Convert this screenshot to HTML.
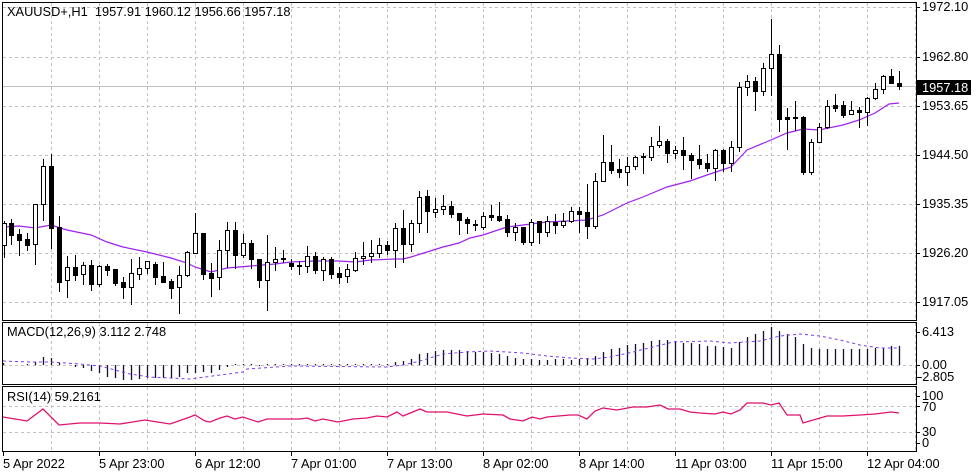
<!DOCTYPE html>
<html><head><meta charset="utf-8"><style>
html,body{margin:0;padding:0;background:#fff;}
svg{display:block;font-family:"Liberation Sans",sans-serif;font-size:12.8px;}
</style></head><body>
<svg id="c" width="980" height="475" xmlns="http://www.w3.org/2000/svg">
<rect width="980" height="475" fill="#fff"/>
<g id="grid" stroke="#c0c0c0" stroke-dasharray="3,3" stroke-width="1"></g>
<g id="plot"></g>
<g stroke="#000" fill="none" stroke-width="1">
<rect x="2.5" y="2.5" width="914" height="318"/>
<rect x="2.5" y="322.5" width="914" height="62"/>
<rect x="2.5" y="386.5" width="914" height="65"/>
</g>
<g id="ticks" stroke="#000" stroke-width="1"></g>
<g fill="#000">
<text x="7" y="16">XAUUSD+,H1&#160;&#160;1957.91 1960.12 1956.66 1957.18</text>
<text x="7" y="336">MACD(12,26,9) 3.112 2.748</text>
<text x="7" y="401">RSI(14) 59.2161</text>
<text x="922" y="11">1972.10</text>
<text x="922" y="61">1962.80</text>
<text x="922" y="110">1953.65</text>
<text x="922" y="159">1944.50</text>
<text x="922" y="208">1935.35</text>
<text x="922" y="257">1926.20</text>
<text x="922" y="306">1917.05</text>
<text x="922" y="336">6.413</text>
<text x="922" y="369">0.00</text>
<text x="918" y="381">-2.805</text>
<text x="922" y="400">100</text>
<text x="922" y="411">70</text>
<text x="922" y="436">30</text>
<text x="922" y="447">0</text>
</g>
<rect x="917" y="80" width="54" height="15" fill="#000"/>
<text x="922" y="92" fill="#fff">1957.18</text>
<g fill="#000">
<text x="3" y="468">5 Apr 2022</text>
<text x="99" y="468">5 Apr 23:00</text>
<text x="195" y="468">6 Apr 12:00</text>
<text x="291" y="468">7 Apr 01:00</text>
<text x="387" y="468">7 Apr 13:00</text>
<text x="483" y="468">8 Apr 02:00</text>
<text x="579" y="468">8 Apr 14:00</text>
<text x="675" y="468">11 Apr 03:00</text>
<text x="771" y="468">11 Apr 15:00</text>
<text x="867" y="468">12 Apr 04:00</text>
</g>
</svg>
<script>
var NS="http://www.w3.org/2000/svg";
function el(p,t,a){var e=document.createElementNS(NS,t);for(var k in a)e.setAttribute(k,a[k]);p.appendChild(e);return e;}
var grid=document.getElementById('grid'),plot=document.getElementById('plot'),ticks=document.getElementById('ticks');
for(var x=51;x<916;x+=48){[[3,320],[323,384],[387,451]].forEach(function(r){el(grid,'line',{x1:x+.5,x2:x+.5,y1:r[0],y2:r[1]});});}
[7,57,106,155,204,253,302].forEach(function(y){el(grid,'line',{x1:3,x2:916,y1:y+.5,y2:y+.5});el(ticks,'line',{x1:916,x2:920,y1:y+.5,y2:y+.5});});
[365].forEach(function(y){el(grid,'line',{x1:3,x2:916,y1:y+.5,y2:y+.5});});
[406,432].forEach(function(y){el(grid,'line',{x1:3,x2:916,y1:y+.5,y2:y+.5});});
[332,365,377].forEach(function(y){el(ticks,'line',{x1:916,x2:920,y1:y+.5,y2:y+.5});});
[396,406,432,443].forEach(function(y){el(ticks,'line',{x1:916,x2:920,y1:y+.5,y2:y+.5});});
for(var x=3;x<916;x+=96)el(ticks,'line',{x1:x+.5,x2:x+.5,y1:451,y2:456});
el(plot,'line',{x1:3,x2:916,y1:86.5,y2:86.5,stroke:'#c0c0c0'});
var ma=[[3,227],[19,226],[35,228],[51,225],[67,230],[91,235],[107,242],[123,247],[147,252],[171,258],[187,263],[195,267],[211,272],[227,268],[251,266],[275,264],[291,262],[315,261],[339,261],[355,262],[371,260],[395,259],[403,259],[411,257],[427,252],[443,247],[459,243],[470,238],[483,235],[507,227],[523,225],[547,222],[587,220],[603,215],[627,203],[643,197],[667,187],[690,181],[707,175],[731,167],[747,150],[771,140],[787,133],[803,129],[819,130],[843,125],[859,120],[875,113],[889,104],[899,103]];
el(plot,'polyline',{points:ma.map(function(p){return p.join(',')}).join(' '),fill:'none',stroke:'#a020f0','stroke-width':1.2});
var C=[[223,245,221,257,0],[223,235,219,244,1],[234,240,229,255,1],[239,245,233,250,1],[204,244,204,264,0],[166,204,159,220,0],[166,228,154,248,1],[227,282,216,291,1],[267,280,256,297,0],[267,275,255,280,1],[265,274,262,284,0],[265,284,260,290,1],[266,284,265,286,0],[266,270,264,275,1],[269,283,269,285,1],[282,287,277,298,1],[273,287,259,304,0],[268,274,257,279,0],[261,268,261,273,0],[264,277,262,284,1],[276,282,262,282,1],[281,288,279,298,1],[275,287,266,313,0],[252,275,251,276,0],[233,253,213,253,0],[233,274,233,279,1],[273,278,263,296,1],[250,277,240,289,0],[230,250,222,267,0],[230,255,222,268,1],[243,255,234,257,0],[243,259,240,268,1],[259,280,259,287,1],[262,280,235,310,0],[259,262,247,270,0],[258,259,250,262,1],[263,266,259,269,1],[265,266,261,274,1],[256,266,246,272,0],[256,270,252,273,1],[259,270,257,280,0],[259,274,257,278,1],[273,277,267,283,1],[269,276,264,282,0],[258,270,252,271,0],[256,258,242,264,0],[253,256,240,262,0],[245,253,238,257,0],[245,250,241,254,1],[228,250,223,267,0],[228,244,210,262,1],[223,244,220,251,0],[197,223,191,232,0],[196,211,190,232,1],[209,212,198,217,0],[206,209,195,214,0],[206,214,201,217,1],[213,220,213,234,1],[219,223,217,233,1],[224,225,220,230,1],[216,227,212,229,0],[215,217,205,220,1],[216,220,202,221,1],[219,232,215,236,1],[227,232,223,240,0],[227,242,227,244,1],[222,242,219,245,0],[221,232,221,243,1],[221,232,216,236,0],[222,225,214,233,1],[221,225,213,227,0],[211,221,207,222,0],[211,214,207,232,1],[212,226,184,238,1],[181,226,173,228,0],[162,181,135,181,0],[162,170,145,173,1],[169,172,159,177,1],[166,172,157,185,0],[157,166,156,169,0],[156,157,153,173,1],[146,157,137,160,0],[141,145,126,147,0],[141,153,139,162,1],[150,153,146,158,0],[150,155,137,169,1],[155,160,153,178,1],[159,164,145,168,1],[163,168,154,171,1],[150,168,149,180,0],[150,163,149,171,1],[147,163,141,171,0],[87,147,82,151,0],[81,87,75,95,0],[81,91,77,110,1],[68,91,63,95,0],[54,68,19,95,0],[54,119,45,131,1],[117,119,108,149,1],[117,118,101,130,1],[117,172,116,174,1],[142,172,139,174,0],[127,142,123,142,0],[106,127,100,128,0],[105,108,94,111,1],[105,115,101,117,1],[110,114,101,114,0],[110,112,107,127,1],[98,112,97,125,0],[89,98,83,99,0],[76,89,75,93,0],[76,83,69,83,1],[83,86,71,89,1]];
C.forEach(function(c,i){var x=3+8*i;if(x<4)x=4;
el(plot,'line',{x1:x+.5,x2:x+.5,y1:c[2],y2:c[3]+1,stroke:'#000'});
var h=Math.max(c[1]-c[0],1);
el(plot,'rect',{x:x-1.5,y:c[0]+.5,width:4,height:h,fill:c[4]?'#000':'#fff',stroke:'#000','stroke-width':1});});
var H=[363,365,365,364,362,357,358,363,365,367,368,371,373,377,378,380,380,379,378,378,378,378,377,373,373,372,373,370,367,364,364,364,366,364,364,364,364,364,364,364,364,364,364,364,364,364,364,364,364,362,361,359,354,353,351,350,350,350,351,352,352,353,354,356,358,359,359,360,360,359,359,360,359,358,356,352,349,348,345,344,343,341,340,340,341,343,343,344,346,346,347,348,342,337,334,331,327,331,334,337,344,348,349,349,349,349,349,349,349,348,348,346,346];
H.forEach(function(v,i){var x=3+8*i+.5;if(v==365)return;el(plot,'line',{x1:x,x2:x,y1:365,y2:v,stroke:'#101030','stroke-width':1.3});});
var S=[[3,361],[30,362],[51,362],[80,364],[100,366],[115,370],[130,374],[150,377],[190,379],[243,372],[247,369],[290,366],[387,367],[403,365],[420,361],[443,354],[467,352],[490,351],[523,353],[547,356],[570,358],[593,359],[610,357],[633,352],[653,347],[673,342],[710,341],[730,343],[760,341],[780,336],[800,334],[820,336],[840,340],[860,345],[880,348],[900,348]];
el(plot,'polyline',{points:S.map(function(p){return p.join(',')}).join(' '),fill:'none',stroke:'#7a3cf0','stroke-dasharray':'3,3','stroke-width':1});
var R=[[3,417],[27,421],[43,409],[59,425],[80,423],[100,423],[120,424],[145,420],[170,424],[190,417],[195,415],[205,421],[210,422],[220,418],[227,416],[235,419],[243,417],[258,422],[267,419],[300,419],[307,418],[315,421],[323,419],[338,422],[353,419],[367,418],[377,416],[387,417],[397,412],[403,416],[420,409],[427,412],[447,412],[467,416],[483,414],[503,415],[510,419],[523,421],[532,417],[540,419],[547,417],[570,415],[578,415],[587,419],[595,411],[603,408],[617,410],[633,407],[647,407],[660,405],[668,409],[680,409],[690,412],[700,413],[715,414],[723,412],[731,414],[740,410],[747,403],[763,403],[771,405],[779,403],[787,415],[800,415],[803,423],[827,416],[843,416],[860,415],[875,414],[891,412],[899,413]];
el(plot,'polyline',{points:R.map(function(p){return p.join(',')}).join(' '),fill:'none',stroke:'#e0106e','stroke-width':1.3});
</script>
</body></html>
